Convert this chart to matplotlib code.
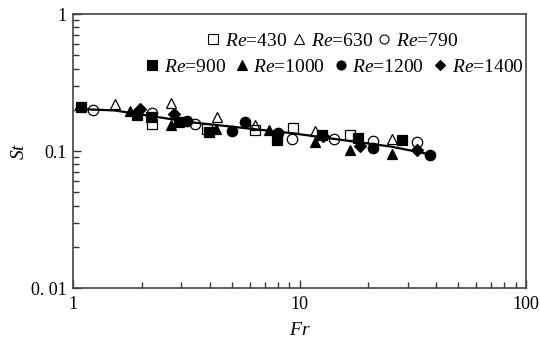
import matplotlib
matplotlib.use("Agg")
import matplotlib.pyplot as plt
from matplotlib.lines import Line2D
from matplotlib.ticker import NullFormatter, LogLocator

plt.rcParams['font.family'] = ['Liberation Serif', 'DejaVu Serif']
plt.rcParams['mathtext.fontset'] = 'custom'
plt.rcParams['mathtext.it'] = 'Liberation Serif:italic'
plt.rcParams['mathtext.rm'] = 'Liberation Serif'

# ---- data ----
fr_430 = [2.23, 3.90, 6.36, 9.36, 16.6]
st_430 = [0.158, 0.145, 0.142, 0.148, 0.130]

fr_630 = [1.52, 2.70, 4.32, 6.36, 11.7, 25.7]
st_630 = [0.220, 0.223, 0.176, 0.155, 0.141, 0.122]

fr_790 = [1.22, 2.23, 3.45, 9.20, 14.2, 21.0, 32.9]
st_790 = [0.199, 0.190, 0.157, 0.122, 0.122, 0.119, 0.117]

fr_900 = [1.08, 1.90, 2.20, 2.93, 3.97, 7.91, 12.5, 18.1, 28.4]
st_900 = [0.211, 0.183, 0.178, 0.164, 0.138, 0.120, 0.131, 0.124, 0.120]

fr_1000 = [1.77, 2.70, 4.25, 7.28, 11.7, 16.6, 25.7]
st_1000 = [0.197, 0.155, 0.146, 0.142, 0.117, 0.102, 0.095]

fr_1200 = [3.19, 5.02, 5.75, 8.05, 21.0, 37.8]
st_1200 = [0.166, 0.141, 0.164, 0.135, 0.105, 0.094]

fr_1400 = [1.96, 2.79, 12.7, 18.4, 33.1]
st_1400 = [0.202, 0.188, 0.129, 0.109, 0.102]

fit_fr = [1.03, 1.52, 3.35, 9.27, 25.2, 38.5]
fit_st = [0.203, 0.198, 0.162, 0.135, 0.108, 0.094]

x_ticks = [1, 10, 100]
x_labels = ["1", "10", "100"]
y_ticks = [0.01, 0.1, 1]
y_labels = ["0. 01", "0.1", "1"]

series = [
    ("Re=430", fr_430, st_430, 's', 'none'),
    ("Re=630", fr_630, st_630, '^', 'none'),
    ("Re=790", fr_790, st_790, 'o', 'none'),
    ("Re=900", fr_900, st_900, 's', 'black'),
    ("Re=1000", fr_1000, st_1000, '^', 'black'),
    ("Re=1200", fr_1200, st_1200, 'o', 'black'),
    ("Re=1400", fr_1400, st_1400, 'D', 'black'),
]

fig = plt.figure(figsize=(5.4, 3.43), dpi=100)
ax = fig.add_axes([0.136, 0.160, 0.838, 0.799])

ax.plot(fit_fr, fit_st, color='black', lw=1.6, zorder=2)

handles = []
for name, fr, st, m, fc in series:
    ms = 7.5 if m != 'D' else 6.2
    ax.plot(fr, st, linestyle='none', marker=m, markersize=ms,
            markerfacecolor=fc, markeredgecolor='black', markeredgewidth=0.9, zorder=3)
    lbl = r'$Re$' + name[2:]
    handles.append(Line2D([], [], linestyle='none', marker=m,
                          markersize=(6.5 if m != 'D' else 5.5),
                          markerfacecolor=fc, markeredgecolor='black',
                          markeredgewidth=0.8, label=lbl))

ax.set_xscale('log')
ax.set_yscale('log')
ax.set_xlim(1, 100)
ax.set_ylim(0.01, 1)

ax.set_xticks(x_ticks, x_labels)
ax.set_yticks(y_ticks, y_labels)
ax.xaxis.set_minor_locator(LogLocator(base=10, subs=range(2, 10)))
ax.yaxis.set_minor_locator(LogLocator(base=10, subs=range(2, 10)))
ax.xaxis.set_minor_formatter(NullFormatter())
ax.yaxis.set_minor_formatter(NullFormatter())
ax.tick_params(which='both', direction='in', top=False, right=False, colors='#333333',
               labelcolor='black', labelsize=13, width=1.0)
ax.tick_params(which='major', length=6)
ax.tick_params(axis='x', which='major', pad=6)
ax.tick_params(axis='y', which='major', pad=5)
ax.tick_params(which='minor', length=4)
for s in ax.spines.values():
    s.set_color('#444444')
    s.set_linewidth(1.2)

ax.set_xlabel(r'$Fr$', fontsize=14, labelpad=6)
ax.set_ylabel(r'$St$', fontsize=14, labelpad=2)

leg1 = ax.legend(handles=handles[:3], ncol=3, frameon=False, fontsize=14,
                 loc='center', bbox_to_anchor=(332 / 540, 1 - 41 / 343),
                 bbox_transform=fig.transFigure, handlelength=0.8,
                 handletextpad=0.2, columnspacing=0.2, borderpad=0)
ax.add_artist(leg1)
leg2 = ax.legend(handles=handles[3:], ncol=4, frameon=False, fontsize=14,
                 loc='center', bbox_to_anchor=(334 / 540, 1 - 67 / 343),
                 bbox_transform=fig.transFigure, handlelength=0.8,
                 handletextpad=0.2, columnspacing=0.4, borderpad=0)

fig.savefig('out.png', dpi=100)
